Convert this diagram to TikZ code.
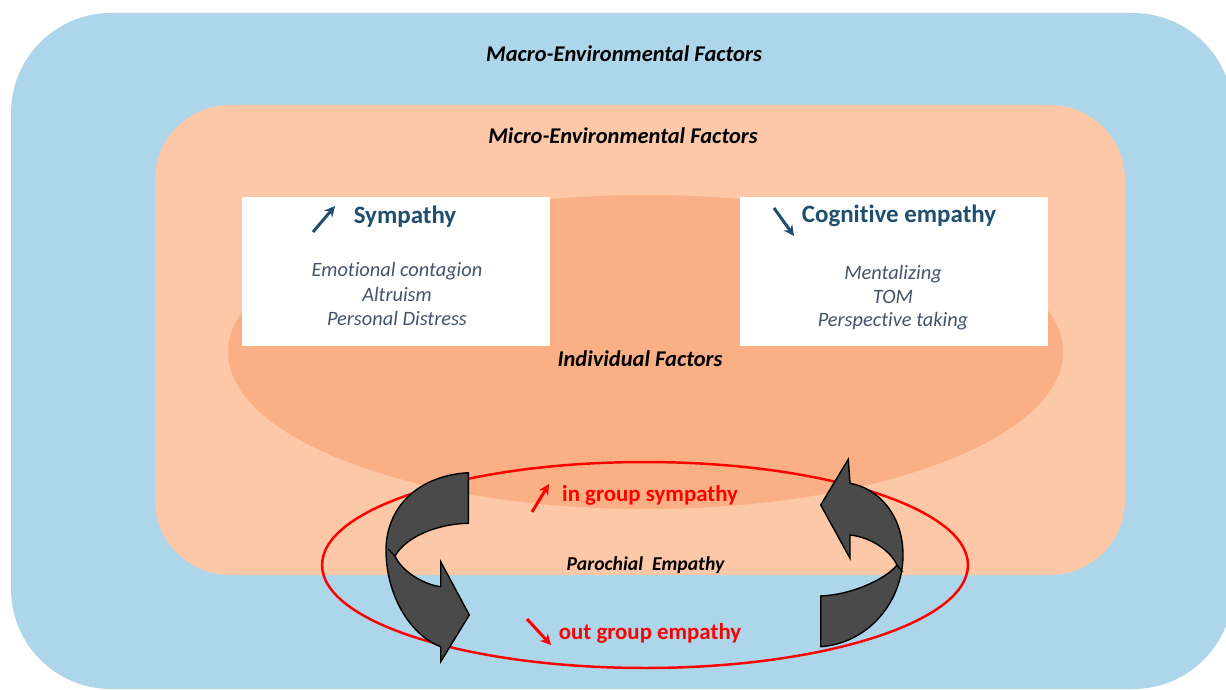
\documentclass[tikz,border=0pt]{standalone}
\usepackage{fontspec}
\setmainfont{Carlito}[Ligatures=NoCommon]
\usetikzlibrary{arrows.meta}
\definecolor{macroblue}{HTML}{AED6EA}
\definecolor{microorange}{HTML}{FDC8A7}
\definecolor{indivorange}{HTML}{FAAF84}
\definecolor{titleblue}{HTML}{1F4E6E}
\definecolor{itemgray}{HTML}{44546A}
\definecolor{arrowgray}{HTML}{4A4A4A}
\definecolor{redline}{HTML}{FF0000}
\tikzset{
  layerlabel/.style={font=\fontsize{12.8}{15}\selectfont\bfseries\itshape, text=black, inner sep=0pt},
  whitebox/.style={fill=white, draw=none, minimum width=6.16cm, minimum height=2.98cm, inner sep=0pt},
  boxtitle/.style={font=\fontsize{14.2}{17}\selectfont\bfseries, text=titleblue, inner sep=0pt},
  boxitem/.style={font=\fontsize{11.6}{13}\selectfont\itshape, text=itemgray, inner sep=0pt},
  redlabel/.style={font=\fontsize{13}{15}\selectfont\bfseries, text=redline, inner sep=0pt},
  iconarrow/.style={line width=1.7pt, -{Stealth[length=6pt,width=6pt]}},
  bigarrow/.style={fill=arrowgray, draw=black, line width=0.8pt, line join=miter},
}
\begin{document}
\begin{tikzpicture}[x=0.02cm,y=-0.02cm]
\useasboundingbox (0,0) rectangle (1226,689);
\begin{scope}
  \clip (0,0) rectangle (1226,689);
  \fill[macroblue, rounded corners=2cm] (11,13) rectangle (1233,689);
\end{scope}
\fill[microorange, rounded corners=1.5cm] (155,105) rectangle (1125,575);
\fill[indivorange] (645.5,352) ellipse [x radius=8.35cm, y radius=3.14cm];

\node[layerlabel] (macro) at (624,54) {Macro-Environmental Factors};
\node[layerlabel] (micro) at (623,136) {Micro-Environmental Factors};
\node[layerlabel] (indiv) at (640,359) {Individual Factors};

\node[whitebox] (symbox) at (396,271.5) {};
\node[whitebox] (cogbox) at (894,271.5) {};

\node[boxtitle] (symtitle) at (405,217) {Sympathy};
\coordinate (symA) at (313,232);
\coordinate (symB) at (335,206);
\draw[iconarrow, titleblue] (symA) -- (symB);
\node[boxitem] (s1) at (397,271) {Emotional contagion};
\node[boxitem] (s2) at (397,294) {Altruism};
\node[boxitem] (s3) at (397,318) {Personal Distress};

\node[boxtitle] (cogtitle) at (899,216) {Cognitive empathy};
\coordinate (cogA) at (774,208);
\coordinate (cogB) at (794,236);
\draw[iconarrow, titleblue] (cogA) -- (cogB);
\node[boxitem] (c1) at (893,274) {Mentalizing};
\node[boxitem] (c2) at (893,297) {TOM};
\node[boxitem] (c3) at (893,321) {Perspective taking};

\draw[redline, line width=1.4pt] (645,565) ellipse [x radius=6.46cm, y radius=2.06cm];

% curved arrows
\draw[bigarrow] (468.3,472.7) .. controls (415,476) and (386,510) .. (386,550)
  .. controls (386,595) and (410,635) .. (440.7,646.7)
  -- (440.7,661.7) -- (469.3,615) -- (440.7,561.7) -- (440.7,586.7)
  .. controls (425,585) and (402,572) .. (395,556)
  .. controls (405,538) and (435,524) .. (468.3,523.3) -- cycle;
\draw[black, line width=0.8pt] (395,556) -- (388,549);

\draw[bigarrow] (848.3,459.3) -- (850,483.3)
  .. controls (878,488) and (903,515) .. (903,555)
  .. controls (903,600) and (870,643) .. (820.7,646.7)
  -- (820.7,596)
  .. controls (850,595) and (885,580) .. (897,565)
  .. controls (890,550) and (870,537) .. (850,535)
  -- (850,558.3) -- (820.7,505) -- cycle;
\draw[black, line width=0.8pt] (897,565) -- (902.5,572);

\node[redlabel] (ingroup) at (650,495) {in group sympathy};
\coordinate (inA) at (532,512);
\coordinate (inB) at (549,484);
\draw[iconarrow, redline] (inA) -- (inB);
\node[font=\fontsize{11.2}{13}\selectfont\bfseries\itshape, inner sep=0pt] (paro) at (645.5,565) {Parochial\ \ Empathy};
\node[redlabel] (outgroup) at (650,633) {out group empathy};
\coordinate (outA) at (527,619);
\coordinate (outB) at (551,645);
\draw[iconarrow, redline] (outA) -- (outB);
\end{tikzpicture}
\end{document}
